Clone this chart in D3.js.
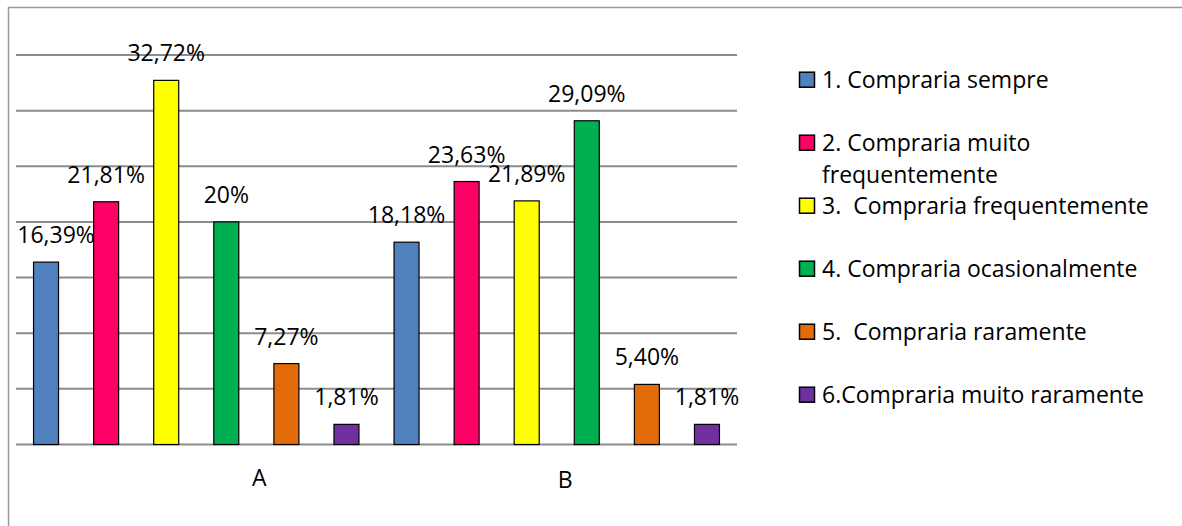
<!DOCTYPE html>
<html>
<head>
<meta charset="utf-8">
<script src="https://cdn.jsdelivr.net/npm/d3@7"></script>
<style>
  html, body { margin: 0; padding: 0; background: #ffffff; }
  text { font-family: "Open Sans", "Noto Sans", sans-serif; fill: #000; white-space: pre; }
</style>
</head>
<body>
<script>
const width = 1182;
const height = 526;

// DATA
const groups = ["A", "B"];
const answers = [
  "1. Compraria sempre",
  "2. Compraria muito frequentemente",
  "3.  Compraria frequentemente",
  "4. Compraria ocasionalmente",
  "5.  Compraria raramente",
  "6.Compraria muito raramente"
];
const valuesA = [16.39, 21.81, 32.72, 20, 7.27, 1.81];
const valuesB = [18.18, 23.63, 21.89, 29.09, 5.40, 1.81];
const labelsA = ["16,39%", "21,81%", "32,72%", "20%", "7,27%", "1,81%"];
const labelsB = ["18,18%", "23,63%", "21,89%", "29,09%", "5,40%", "1,81%"];
const yTicks = [0, 5, 10, 15, 20, 25, 30, 35];

//Colours for the six answers
const colors = ["#4f81bd", "#ff0066", "#ffff00", "#00b050", "#e36c09", "#7030a0"];

const fontSize = "23px";

const svg = d3.select("body").append("svg")
    .attr("width", width)
    .attr("height", height);

//chart frame (only top and left edges fall inside the picture)
svg.append("rect")
    .attr("x", 8.5)
    .attr("y", 7.5)
    .attr("width", 1300)
    .attr("height", 600)
    .attr("fill", "none")
    .attr("stroke", "#9a9a9a")
    .attr("stroke-width", 1.5);

const plotLeft = 16, plotRight = 737;
const y = d3.scaleLinear().domain([0, 35]).range([444.5, 55]);
const x0 = d3.scaleBand().domain(groups).range([plotLeft, plotRight]).padding(0);
const x1 = d3.scaleBand().domain(d3.range(answers.length))
    .range([0, x0.bandwidth()]).paddingInner(0.584).paddingOuter(0.292);

//gridlines
svg.append("g").selectAll("line")
    .data(yTicks)
    .join("line")
    .attr("x1", plotLeft)
    .attr("x2", plotRight)
    .attr("y1", d => y(d))
    .attr("y2", d => y(d))
    .attr("stroke", "#8c8c8c")
    .attr("stroke-width", 2);

const rows = groups.map((g, gi) => ({
  group: g,
  values: gi === 0 ? valuesA : valuesB,
  labels: gi === 0 ? labelsA : labelsB
}));

//small nudges that the original made by hand
const labelNudge = {"A-0": 10};
const groupLabelShift = {"A": 63, "B": 8.5};
const groupLabelY = {"A": 486, "B": 488};

const gGroup = svg.append("g").selectAll("g")
    .data(rows)
    .join("g")
    .attr("transform", d => `translate(${x0(d.group)},0)`);

gGroup.selectAll("rect")
    .data(d => d.values.map((v, i) => ({v, i})))
    .join("rect")
    .attr("x", d => x1(d.i))
    .attr("y", d => y(d.v))
    .attr("width", x1.bandwidth())
    .attr("height", d => y(0) - y(d.v))
    .attr("fill", d => colors[d.i])
    .attr("stroke", "#000")
    .attr("stroke-width", 1.2);

gGroup.selectAll("text.val")
    .data(d => d.values.map((v, i) => ({v, i, label: d.labels[i], key: d.group + "-" + i})))
    .join("text")
    .attr("class", "val")
    .attr("x", d => x1(d.i) + x1.bandwidth() / 2 + (labelNudge[d.key] || 0))
    .attr("y", d => y(d.v) - 19)
    .attr("text-anchor", "middle")
    .style("font-size", fontSize)
    .text(d => d.label);

//category labels
svg.append("g").selectAll("text")
    .data(groups)
    .join("text")
    .attr("x", d => x0(d) + x0.bandwidth() / 2 + groupLabelShift[d])
    .attr("y", d => groupLabelY[d])
    .attr("text-anchor", "middle")
    .style("font-size", fontSize)
    .text(d => d);

//legend
const legend = svg.append("g").attr("transform", "translate(799,0)");
const legendItems = legend.selectAll("g")
    .data(answers)
    .join("g")
    .attr("transform", (d, i) => `translate(0,${87.7 + i * 63})`);

legendItems.append("rect")
    .attr("x", 0.5)
    .attr("y", -15.5)
    .attr("width", 15)
    .attr("height", 15)
    .attr("fill", (d, i) => colors[i])
    .attr("stroke", "#000")
    .attr("stroke-width", 1.5);

legendItems.append("text")
    .attr("x", 23)
    .attr("y", 0)
    .style("font-size", fontSize)
    .each(function(d) {
      // wrap long labels like the original legend
      const t = d3.select(this);
      const words = d.split(" ");
      let line = [];
      let tspan = t.append("tspan").attr("x", 23).attr("dy", 0);
      words.forEach(w => {
        line.push(w);
        tspan.text(line.join(" "));
        if (tspan.node().getComputedTextLength() > 365 && line.length > 1) {
          line.pop();
          tspan.text(line.join(" "));
          line = [w];
          tspan = t.append("tspan").attr("x", 23).attr("dy", 32).text(w);
        }
      });
    });
</script>
</body>
</html>
